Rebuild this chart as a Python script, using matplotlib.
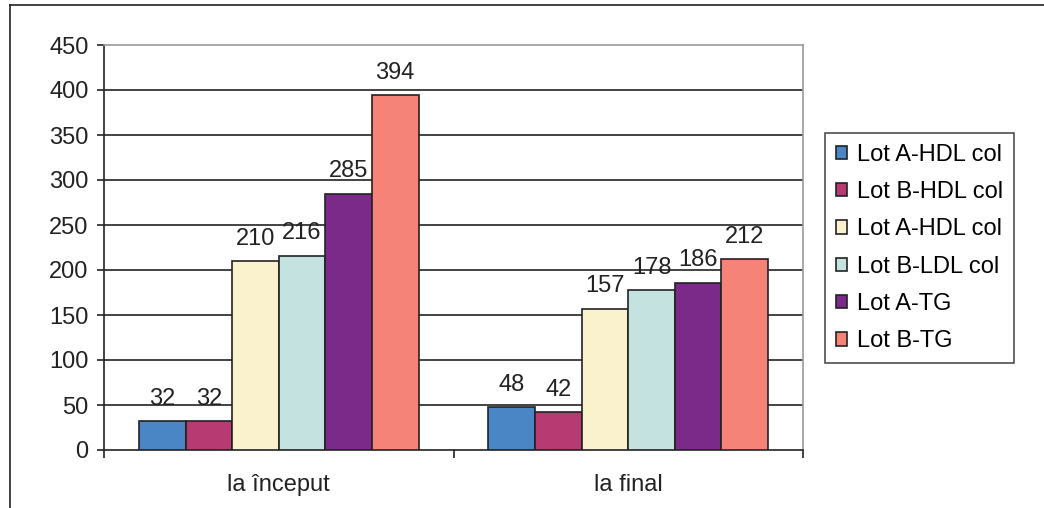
import matplotlib
matplotlib.use("Agg")
import matplotlib.pyplot as plt
import numpy as np
from matplotlib.lines import Line2D

plt.rcParams['font.family'] = ['Liberation Sans', 'DejaVu Sans']

categories = ["la început", "la final"]
series_names = ["Lot A-HDL col", "Lot B-HDL col", "Lot A-HDL col",
                "Lot B-LDL col", "Lot A-TG", "Lot B-TG"]
series_values = [
    [32, 48],
    [32, 42],
    [210, 157],
    [216, 178],
    [285, 186],
    [394, 212],
]
colors = ["#4A86C6", "#B83A72", "#FAF2CC", "#C4E3E0", "#7B2A8A", "#F58378"]
yticks = [0, 50, 100, 150, 200, 250, 300, 350, 400, 450]

FS = 17
W, H = 1044, 508
fig = plt.figure(figsize=(W/100, H/100), dpi=100)
ax = fig.add_axes([104/W, 1-450/H, (803-104)/W, (450-45)/H])

# outer frame
fig.add_artist(Line2D([10/W, 10/W], [0, 1-5/H], transform=fig.transFigure, color="#222222", lw=1.2))
fig.add_artist(Line2D([10/W, 1], [1-5/H, 1-5/H], transform=fig.transFigure, color="#222222", lw=1.2))

n = len(series_values)
bw = 0.8 / n
x = np.arange(len(categories))
for i, (vals, c, name) in enumerate(zip(series_values, colors, series_names)):
    pos = x - 0.4 + bw*(i+0.5)
    ax.bar(pos, vals, width=bw, color=c, edgecolor="#222222", linewidth=1.2, label=name, zorder=3)
    for p, v in zip(pos, vals):
        ax.annotate(str(v), (p, v), xytext=(0, 16), textcoords="offset points",
                    ha="center", va="center", fontsize=FS, color="#222222", zorder=4)

ax.set_xlim(-0.5, len(categories)-0.5)
ax.set_ylim(0, 450)
ax.set_yticks(yticks)
ax.set_yticklabels([str(t) for t in yticks], fontsize=FS, color="#222222")
for t in yticks[1:-1]:
    ax.axhline(t, color="#222222", lw=1.2, zorder=1)

ax.set_xticks(x)
ax.set_xticklabels(categories, fontsize=FS, color="#222222")
ax.tick_params(axis='x', which='major', length=0, pad=17)
ax.set_xticks(np.arange(len(categories)+1)-0.5, minor=True)
ax.tick_params(axis='x', which='minor', length=6, width=1.2, color="#222222", direction='out')
ax.tick_params(axis='y', length=5, width=1.2, color="#222222", direction='out', pad=6)

ax.spines['left'].set_color("#222222")
ax.spines['bottom'].set_color("#222222")
ax.spines['left'].set_linewidth(1.2)
ax.spines['bottom'].set_linewidth(1.2)
ax.spines['right'].set_color("#999999")
ax.spines['top'].set_color("#999999")
ax.spines['right'].set_linewidth(1.2)
ax.spines['top'].set_linewidth(1.2)

leg = fig.legend(loc="upper left", bbox_to_anchor=(825/W, 1-133/H), fontsize=FS,
                 frameon=True, fancybox=False, edgecolor="#222222",
                 handlelength=0.5, handleheight=0.5, handletextpad=0.4,
                 labelspacing=0.65, borderpad=0.45, borderaxespad=0)
leg.get_frame().set_linewidth(1.2)

fig.savefig("out.png", dpi=100, facecolor="white")
